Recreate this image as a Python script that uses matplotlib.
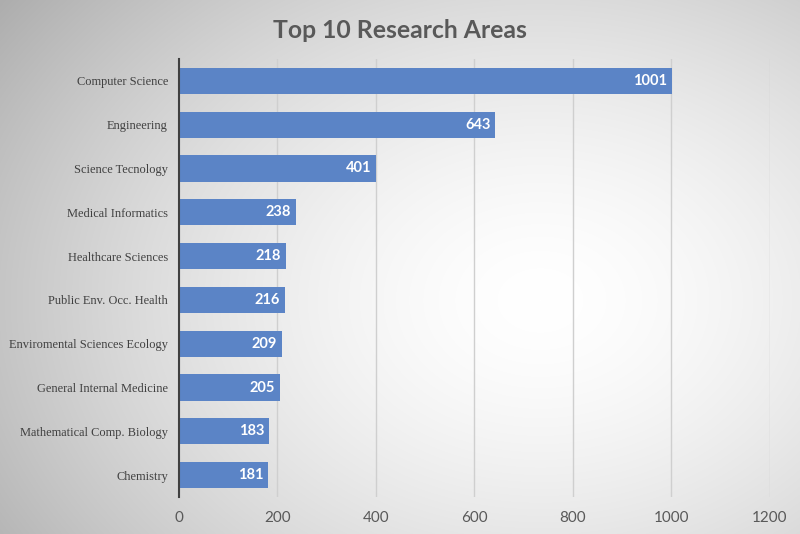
import numpy as np
import matplotlib
matplotlib.use("Agg")
import matplotlib.pyplot as plt

categories = ["Computer Science", "Engineering", "Science Tecnology", "Medical Informatics",
              "Healthcare Sciences", "Public Env. Occ. Health", "Enviromental Sciences Ecology",
              "General Internal Medicine", "Mathematical Comp. Biology", "Chemistry"]
values = [1001, 643, 401, 238, 218, 216, 209, 205, 183, 181]
xticks = [0, 200, 400, 600, 800, 1000, 1200]

W, H = 800, 534
fig = plt.figure(figsize=(W / 100, H / 100), dpi=100)

# radial gradient background
bg = fig.add_axes([0, 0, 1, 1], zorder=-10)
yy, xx = np.mgrid[0:H, 0:W]
cx, cy = 540, 300
r = np.sqrt(((xx - cx) / 560.0) ** 2 + ((yy - cy) / 420.0) ** 2)
v = 1.0 - 0.24 * np.clip(r, 0, 1.3) ** 1.6
img = np.dstack([v, v, v])
bg.imshow(np.clip(img, 0, 1), aspect="auto", extent=[0, W, H, 0])
bg.axis("off")

ax = fig.add_axes([179 / W, 1 - 497 / H, (769.5 - 179) / W, (497 - 59) / H])
ax.patch.set_alpha(0)
y = np.arange(len(categories))
bars = ax.barh(y, values, height=0.6, color="#5b84c6", zorder=3)
ax.set_ylim(len(categories) - 0.5, -0.5)
ax.set_xlim(0, 1200)
ax.set_xticks(xticks)
ax.set_xticklabels([str(t) for t in xticks], fontfamily="Lato", fontsize=11, color="#595959")
ax.set_yticks(y)
ax.set_yticklabels(categories, fontfamily="Liberation Serif", fontsize=8.9, color="#404040")
ax.tick_params(axis="both", length=0)
ax.tick_params(axis="x", pad=10)
ax.tick_params(axis="y", pad=8)
ax.xaxis.grid(True, color="#cfcfcf", linewidth=1, zorder=0)
for s in ["top", "right", "bottom"]:
    ax.spines[s].set_visible(False)
ax.spines["left"].set_color("#404040")
ax.spines["left"].set_linewidth(1.5)
ax.spines["left"].set_zorder(4)

for yi, val in zip(y, values):
    ax.text(val - 10, yi, str(val), ha="right", va="center", color="white",
            fontfamily="Lato", fontweight="bold", fontsize=10.5, zorder=5)

fig.text(0.5, 1 - 30 / H, "Top 10 Research Areas", ha="center", va="center",
         fontfamily="Lato", fontweight="bold", fontsize=17.8, color="#595959")

fig.savefig("out.png", dpi=100)
